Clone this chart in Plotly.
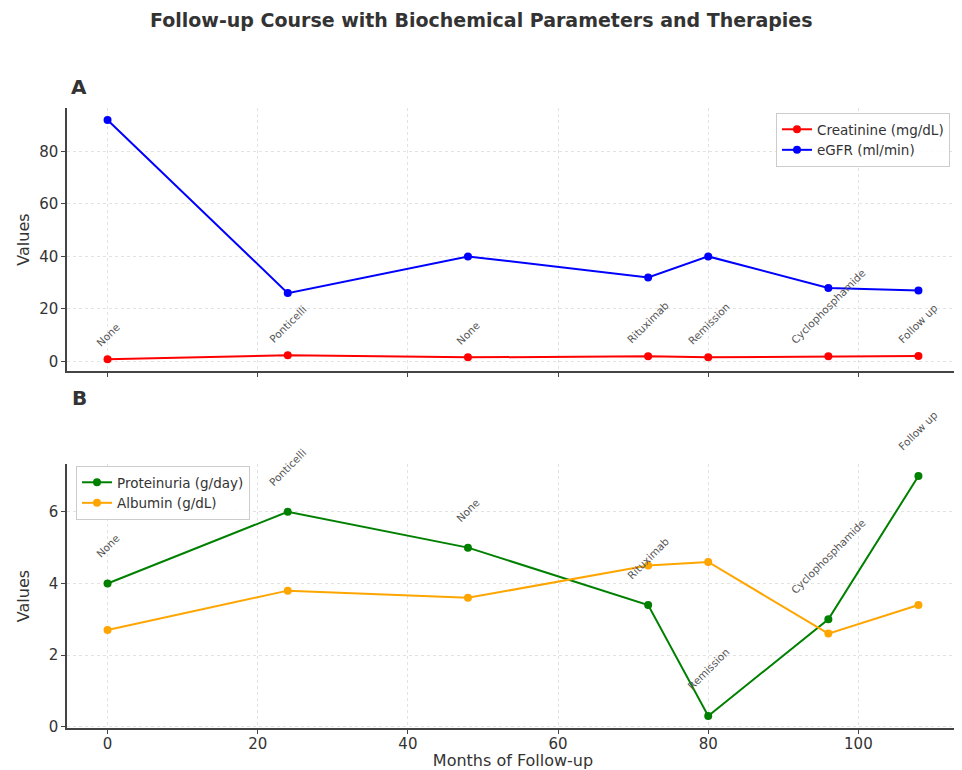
import plotly.graph_objects as go
from plotly.subplots import make_subplots

months = [0, 24, 48, 72, 80, 96, 108]
therapies = ["None", "Ponticelli", "None", "Rituximab", "Remission", "Cyclophosphamide", "Follow up"]
creatinine = [0.8, 2.3, 1.5, 1.9, 1.5, 1.9, 2.0]
egfr = [92, 26, 40, 32, 40, 28, 27]
proteinuria = [4.0, 6.0, 5.0, 3.4, 0.3, 3.0, 7.0]
albumin = [2.7, 3.8, 3.6, 4.5, 4.6, 2.6, 3.4]

OFF = 8  # page body margin
W, H = 962 - OFF, 770 - OFF
FONT = "DejaVu Sans"
TXT = "#333333"

fig = make_subplots(rows=2, cols=1, shared_xaxes=False)

def tr(x, y, name, color, row, legend):
    fig.add_trace(go.Scatter(x=x, y=y, name=name, mode="lines+markers",
                             line=dict(color=color, width=2),
                             marker=dict(color=color, size=8),
                             legend=legend), row=row, col=1)

tr(months, creatinine, "Creatinine (mg/dL)", "red", 1, "legend")
tr(months, egfr, "eGFR (ml/min)", "blue", 1, "legend")
tr(months, proteinuria, "Proteinuria (g/day)", "green", 2, "legend2")
tr(months, albumin, "Albumin (g/dL)", "orange", 2, "legend2")

for xv, yv, t in zip(months, creatinine, therapies):
    fig.add_annotation(x=xv, y=yv, xref="x", yref="y", text=t, textangle=-45,
                       showarrow=False, xanchor="center", yanchor="bottom", yshift=8,
                       font=dict(family=FONT, size=10.5, color="#555555"))
for xv, yv, t in zip(months, proteinuria, therapies):
    fig.add_annotation(x=xv, y=yv, xref="x2", yref="y2", text=t, textangle=-45,
                       showarrow=False, xanchor="center", yanchor="bottom", yshift=21,
                       font=dict(family=FONT, size=10.5, color="#555555"))

def px_x(p):
    return (p - OFF) / W

def px_y(p):
    return 1 - (p - OFF) / H

xdom = [px_x(67), px_x(959)]
axis_common = dict(showline=True, linecolor="#444444", linewidth=1.5,
                   ticks="outside", ticklen=4, tickcolor="#444444", automargin=False,
                   showgrid=True, gridcolor="#e3e3e3", griddash="dot", gridwidth=1,
                   zeroline=False, tickfont=dict(family=FONT, size=15, color=TXT))

fig.update_xaxes(axis_common)
fig.update_yaxes(axis_common)
fig.update_xaxes(row=1, col=1, domain=xdom, range=[-5.4, 113.4], tickvals=[0, 20, 40, 60, 80, 100],
                 showticklabels=False, anchor="y")
fig.update_xaxes(row=2, col=1, domain=xdom, range=[-5.4, 113.4], tickvals=[0, 20, 40, 60, 80, 100],
                 anchor="y2", ticklabelstandoff=-3,
                 title=dict(text="Months of Follow-up", font=dict(family=FONT, size=16, color=TXT), standoff=5))
fig.update_yaxes(row=1, col=1, domain=[px_y(371), px_y(108)], range=[-3.7, 96.6],
                 tickvals=[0, 20, 40, 60, 80],
                 title=dict(text="Values", font=dict(family=FONT, size=16, color=TXT), standoff=6))
fig.update_yaxes(row=2, col=1, domain=[px_y(728), px_y(464)], range=[-0.035, 7.335],
                 tickvals=[0, 2, 4, 6],
                 title=dict(text="Values", font=dict(family=FONT, size=16, color=TXT), standoff=15))

fig.add_annotation(x=px_x(481), y=px_y(20), xref="paper", yref="paper", showarrow=False,
                   text="<b>Follow-up Course with Biochemical Parameters and Therapies</b>",
                   font=dict(family=FONT, size=19, color=TXT), xanchor="center", yanchor="middle")
fig.add_annotation(x=px_x(79), y=px_y(87), xref="paper", yref="paper", showarrow=False,
                   text="<b>A</b>", font=dict(family=FONT, size=20, color=TXT),
                   xanchor="center", yanchor="middle")
fig.add_annotation(x=px_x(79), y=px_y(398), xref="paper", yref="paper", showarrow=False,
                   text="<b>B</b>", font=dict(family=FONT, size=20, color=TXT),
                   xanchor="center", yanchor="middle")

leg = dict(bgcolor="rgba(255,255,255,0.85)", bordercolor="#cccccc", borderwidth=1,
           font=dict(family=FONT, size=13.5, color=TXT), xanchor="left", yanchor="top",
           tracegroupgap=0)
fig.update_layout(
    width=W, height=H, margin=dict(l=0, r=0, t=0, b=0),
    plot_bgcolor="white", paper_bgcolor="white",
    font=dict(family=FONT, color=TXT),
    legend=dict(leg, x=px_x(776), y=px_y(113)),
    legend2=dict(leg, x=px_x(76), y=px_y(466)),
)

fig.write_html("out.html")
